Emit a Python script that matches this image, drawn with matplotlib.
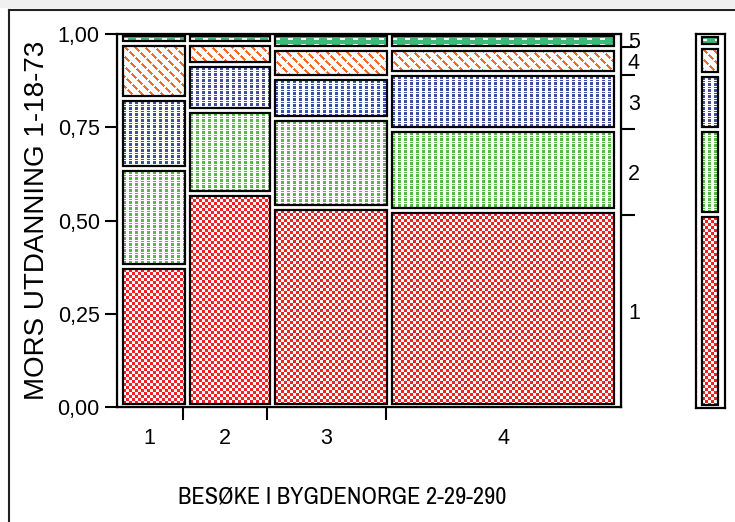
import numpy as np
import matplotlib
matplotlib.use("Agg")
import matplotlib.pyplot as plt
from matplotlib.patches import Rectangle
from matplotlib.lines import Line2D

plt.rcParams['font.family'] = ['Liberation Sans', 'DejaVu Sans']

# column shares of BESØKE I BYGDENORGE (x) and shares of MORS UTDANNING per column
x_labels = ['1', '2', '3', '4']
col_share = [0.130, 0.168, 0.235, 0.467]
level_labels = ['1', '2', '3', '4', '5']
col1 = [0.378, 0.261, 0.188, 0.148, 0.025]
col2 = [0.573, 0.221, 0.123, 0.058, 0.025]
col3 = [0.534, 0.239, 0.111, 0.077, 0.039]
col4 = [0.528, 0.217, 0.150, 0.066, 0.039]
margin = [0.516, 0.229, 0.146, 0.075, 0.034]
y_ticks = [0.0, 0.25, 0.5, 0.75, 1.0]
y_ticklabels = ['0,00', '0,25', '0,50', '0,75', '1,00']

W, H = 735, 522
RED = (0.95, 0.13, 0.13)
GREEN = (0.33, 0.73, 0.27)
BLUE = (0.24, 0.31, 0.64)
ORANGE = (0.95, 0.42, 0.16)
TEAL = (0.24, 0.73, 0.48)


def pattern(level, h, w):
    iy, ix = np.mgrid[0:h, 0:w]
    img = np.ones((h, w, 3))
    if level == 0:
        m = ((ix // 3 + iy // 3) % 2 == 0)
        img[m] = RED
    elif level in (1, 2):
        m = (ix % 6 < 3) & ((iy % 6 < 3) | (iy % 6 == 4))
        img[m] = GREEN if level == 1 else BLUE
    elif level == 3:
        m = ((ix - iy) % 10 < 3) & ((ix + iy) % 12 < 9)
        img[m] = ORANGE
    else:
        img[:] = TEAL
        m = (iy % 6 >= 2) & (iy % 6 < 4) & (ix % 13 < 5)
        img[m] = (1, 1, 1)
    return img


def rect(x0, y0, x1, y1):
    return [x0 / W, 1 - y1 / H, (x1 - x0) / W, (y1 - y0) / H]


def draw_tile(ax, level, x0, x1, y0, y1):
    # place the fill pattern pixel for pixel, outline in data coords
    (px0, py0), (px1, py1) = np.round(ax.transData.transform([(x0, y0), (x1, y1)]))
    w, h = int(px1 - px0), int(py1 - py0)
    if w < 1 or h < 1:
        return
    ax.figure.figimage(pattern(level, h, w), xo=int(px0), yo=int(py0),
                       origin='upper', zorder=-1)
    (x0, y0), (x1, y1) = ax.transData.inverted().transform([(px0, py0), (px1, py1)])
    ax.add_patch(Rectangle((x0, y0), x1 - x0, y1 - y0, fill=False,
                           edgecolor='black', linewidth=1.6, zorder=2))


def draw_column(ax, shares, x0, x1, gap=0.0134):
    cum = np.concatenate([[0], np.cumsum(shares)])
    cum = cum / cum[-1]
    for j in range(len(shares)):
        y0 = max(cum[j] + gap / 2, 0.008)
        y1 = min(cum[j + 1] - gap / 2, 0.995)
        draw_tile(ax, j, x0, x1, y0, y1)


fig = plt.figure(figsize=(W / 100, H / 100), dpi=100)

# window chrome
fig.patches.append(Rectangle((0, 1 - 8 / H), 1, 8 / H, transform=fig.transFigure,
                             facecolor='#f0f0f0', edgecolor='none'))
fig.add_artist(Line2D([9 / W, 1], [1 - 10 / H, 1 - 10 / H], color='#222222', lw=1.5))
fig.add_artist(Line2D([9 / W, 9 / W], [0, 1 - 10 / H], color='#222222', lw=1.5))

ax = fig.add_axes(rect(117, 34, 621, 407))
ax.set_xlim(0, 1)
ax.set_ylim(0, 1)
ax.patch.set_alpha(0)
columns = [col1, col2, col3, col4]
inner_l, inner_r, gap_x = 5.7 / 504, 1 - 7 / 504, 5 / 504
avail = inner_r - inner_l - gap_x * (len(columns) - 1)
x = inner_l
for share, col in zip(col_share, columns):
    w = share / sum(col_share) * avail
    draw_column(ax, col, x, x + w)
    x += w + gap_x

for s in ax.spines.values():
    s.set_linewidth(1.6)

bounds = np.cumsum(col_share)[:-1]
centers = np.cumsum(col_share) - np.array(col_share) / 2
ax.set_xticks(bounds)
ax.set_xticklabels([])
ax.set_xticks(centers, minor=True)
ax.set_xticklabels(x_labels, minor=True, fontsize=15.5)
ax.tick_params(axis='x', which='major', length=9, width=1.5)
ax.tick_params(axis='x', which='minor', length=0, pad=15)
ax.set_yticks(y_ticks)
ax.set_yticklabels(y_ticklabels, fontsize=15.5)
ax.tick_params(axis='y', length=9, width=1.5, pad=3.5)

ax2 = ax.twinx()
ax2.set_ylim(0, 1)
ax2.patch.set_alpha(0)
mcum = np.cumsum(margin)
ax2.set_yticks(mcum[:-1])
ax2.set_yticklabels([])
ax2.set_yticks(mcum - np.array(margin) / 2, minor=True)
ax2.set_yticklabels(level_labels, minor=True, fontsize=15.5)
ax2.tick_params(axis='y', which='major', length=10, width=1.5)
ax2.tick_params(axis='y', which='minor', length=0, pad=5)

axm = fig.add_axes(rect(695.7, 34, 725, 407.7))
axm.set_xlim(0, 1)
axm.set_ylim(0, 1)
axm.patch.set_alpha(0)
draw_column(axm, margin, 0.225, 0.771)
axm.set_xticks([])
axm.set_yticks([])
for s in axm.spines.values():
    s.set_linewidth(1.6)

fig.text(37 / W, 1 - 220 / H, 'MORS UTDANNING 1-18-73', rotation=90,
         ha='center', va='center', fontsize=20)
fig.text(342 / W, 1 - 497 / H, 'BESØKE I BYGDENORGE 2-29-290',
         ha='center', va='center', fontsize=17.5,
         family=['Liberation Sans Narrow', 'Archivo Narrow', 'Liberation Sans'])

fig.savefig('out.png', dpi=100)
